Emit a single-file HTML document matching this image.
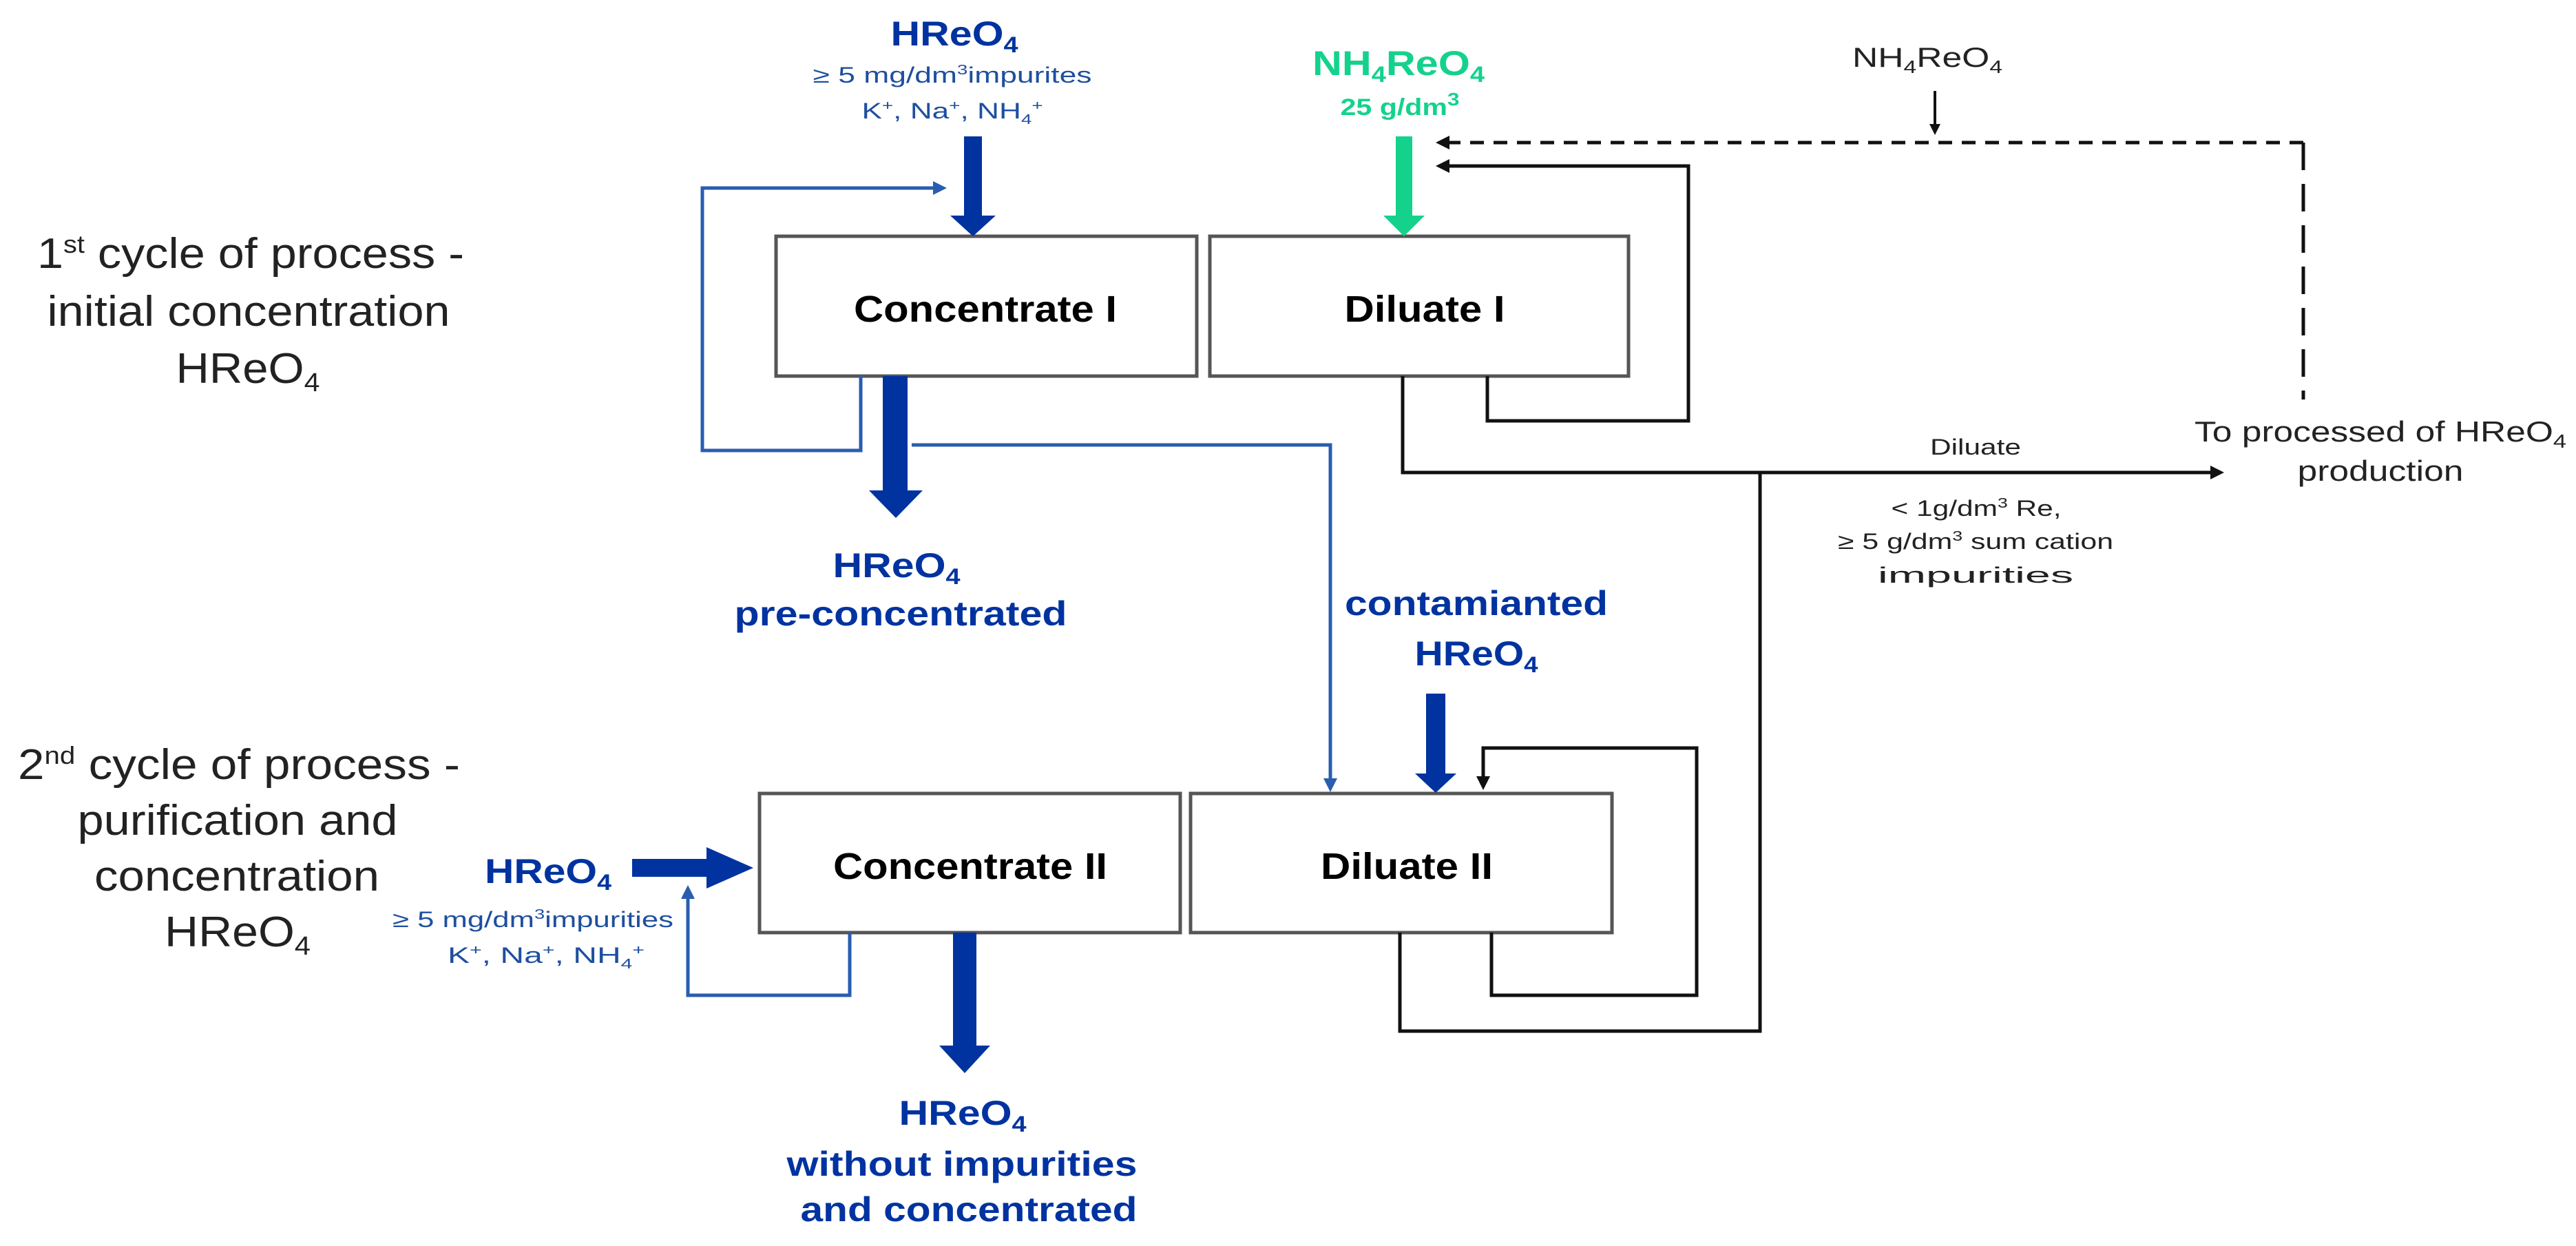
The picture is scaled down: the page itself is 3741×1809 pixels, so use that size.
<!DOCTYPE html>
<html><head><meta charset="utf-8"><style>html,body{margin:0;padding:0;background:#fff}svg{display:block}</style></head>
<body>
<svg width="3741" height="1809" viewBox="0 0 3741 1809" xmlns="http://www.w3.org/2000/svg" font-family="Liberation Sans, Arial, sans-serif">
<defs>
<marker id="ab" markerWidth="4" markerHeight="4" refX="3" refY="2" orient="auto" markerUnits="strokeWidth"><path d="M0,0 L4,2 L0,4 z" fill="#2a5db0"/></marker>
<marker id="ak" markerWidth="4" markerHeight="4" refX="3" refY="2" orient="auto" markerUnits="strokeWidth"><path d="M0,0 L4,2 L0,4 z" fill="#111"/></marker>
</defs>
<g fill="#fff" stroke="#555" stroke-width="5">
<rect x="1127" y="343" width="611" height="203"/>
<rect x="1757" y="343" width="608" height="203"/>
<rect x="1103" y="1152" width="611" height="202"/>
<rect x="1729" y="1152" width="612" height="202"/>
</g>
<g font-weight="bold" font-size="54" fill="#000" text-anchor="middle">
<text x="1431" y="467" textLength="382" lengthAdjust="spacingAndGlyphs">Concentrate I</text>
<text x="2069" y="467" textLength="233" lengthAdjust="spacingAndGlyphs">Diluate I</text>
<text x="1409" y="1276" textLength="398" lengthAdjust="spacingAndGlyphs">Concentrate II</text>
<text x="2043" y="1276" textLength="250" lengthAdjust="spacingAndGlyphs">Diluate II</text>
</g>
<g fill="none" stroke="#2a5db0" stroke-width="5">
<polyline points="1250,546 1250,654 1020,654 1020,273 1370,273" marker-end="url(#ab)"/>
<polyline points="1324,646 1932,646 1932,1145" marker-end="url(#ab)"/>
<polyline points="1234,1354 1234,1445 999,1445 999,1290" marker-end="url(#ab)"/>
</g>
<g fill="#0033a0">
<rect x="1400" y="198" width="26" height="115"/><polygon points="1380,313 1446,313 1413,343"/>
<rect x="1282" y="546" width="36" height="166"/><polygon points="1262,712 1340,712 1301,752"/>
<rect x="2071" y="1007" width="28" height="116"/><polygon points="2055,1123 2115,1123 2085,1151"/>
<rect x="1384" y="1354" width="34" height="164"/><polygon points="1364,1518 1438,1518 1401,1558"/>
<rect x="918" y="1247" width="108" height="26"/><polygon points="1026,1230 1026,1290 1094,1260"/>
</g>
<g fill="#14d28c">
<rect x="2027" y="198" width="24" height="115"/><polygon points="2009,313 2069,313 2039,343"/>
</g>
<g fill="none" stroke="#111" stroke-width="5">
<polyline points="2160,546 2160,611 2452,611 2452,241 2090,241" marker-end="url(#ak)"/>
<polyline points="2037,546 2037,686 3225,686" marker-end="url(#ak)"/>
<polyline points="2556,686 2556,1497 2033,1497 2033,1354"/>
<polyline points="2166,1354 2166,1445 2464,1445 2464,1086 2154,1086 2154,1142" marker-end="url(#ak)"/>
<line x1="2810" y1="132" x2="2810" y2="192" stroke-width="4" marker-end="url(#ak)"/>
<line x1="3345" y1="207" x2="2090" y2="207" stroke-dasharray="20,14" marker-end="url(#ak)"/>
<line x1="3345" y1="207" x2="3345" y2="580" stroke-dasharray="40,20"/>
</g>
<g font-size="62" fill="#222" text-anchor="middle">
<text x="364" y="389" textLength="620" lengthAdjust="spacingAndGlyphs">1<tspan font-size="36" dy="-22">st</tspan><tspan dy="22"> cycle of process -</tspan></text>
<text x="361" y="473" textLength="585" lengthAdjust="spacingAndGlyphs">initial concentration</text>
<text x="360" y="556" textLength="209" lengthAdjust="spacingAndGlyphs">HReO<tspan font-size="38" dy="12">4</tspan></text>
<text x="347" y="1131" textLength="642" lengthAdjust="spacingAndGlyphs">2<tspan font-size="36" dy="-22">nd</tspan><tspan dy="22"> cycle of process -</tspan></text>
<text x="345" y="1212" textLength="465" lengthAdjust="spacingAndGlyphs">purification and</text>
<text x="344" y="1293" textLength="414" lengthAdjust="spacingAndGlyphs">concentration</text>
<text x="345" y="1374" textLength="212" lengthAdjust="spacingAndGlyphs">HReO<tspan font-size="38" dy="12">4</tspan></text>
</g>
<g fill="#0033a0" text-anchor="middle" font-weight="bold" font-size="50">
<text x="1386" y="66" textLength="185" lengthAdjust="spacingAndGlyphs">HReO<tspan font-size="32" dy="10">4</tspan></text>
<text x="1302" y="838" textLength="185" lengthAdjust="spacingAndGlyphs">HReO<tspan font-size="32" dy="10">4</tspan></text>
<text x="1308" y="908" textLength="483" lengthAdjust="spacingAndGlyphs">pre-concentrated</text>
<text x="2144" y="893" textLength="382" lengthAdjust="spacingAndGlyphs">contamianted</text>
<text x="2144" y="966" textLength="179" lengthAdjust="spacingAndGlyphs">HReO<tspan font-size="32" dy="10">4</tspan></text>
<text x="796" y="1282" textLength="184" lengthAdjust="spacingAndGlyphs">HReO<tspan font-size="32" dy="10">4</tspan></text>
<text x="1398" y="1633" textLength="185" lengthAdjust="spacingAndGlyphs">HReO<tspan font-size="32" dy="10">4</tspan></text>
<text x="1397" y="1707" textLength="509" lengthAdjust="spacingAndGlyphs">without impurities</text>
<text x="1407" y="1773" textLength="489" lengthAdjust="spacingAndGlyphs">and concentrated</text>
</g>
<g fill="#1f4fa0" text-anchor="middle" font-size="32">
<text x="1383" y="120" textLength="405" lengthAdjust="spacingAndGlyphs">≥ 5 mg/dm<tspan font-size="20" dy="-12">3</tspan><tspan dy="12">impurites</tspan></text>
<text x="1383" y="172" textLength="263" lengthAdjust="spacingAndGlyphs">K<tspan font-size="20" dy="-12">+</tspan><tspan dy="12">, Na</tspan><tspan font-size="20" dy="-12">+</tspan><tspan dy="12">, NH</tspan><tspan font-size="20" dy="8">4</tspan><tspan font-size="20" dy="-20">+</tspan></text>
<text x="774" y="1346" textLength="408" lengthAdjust="spacingAndGlyphs">≥ 5 mg/dm<tspan font-size="20" dy="-12">3</tspan><tspan dy="12">impurities</tspan></text>
<text x="793" y="1398" textLength="286" lengthAdjust="spacingAndGlyphs">K<tspan font-size="20" dy="-12">+</tspan><tspan dy="12">, Na</tspan><tspan font-size="20" dy="-12">+</tspan><tspan dy="12">, NH</tspan><tspan font-size="20" dy="8">4</tspan><tspan font-size="20" dy="-20">+</tspan></text>
</g>
<g fill="#14d28c" text-anchor="middle" font-weight="bold">
<text x="2031" y="109" font-size="50" textLength="250" lengthAdjust="spacingAndGlyphs">NH<tspan font-size="32" dy="10">4</tspan><tspan dy="-10">ReO</tspan><tspan font-size="32" dy="10">4</tspan></text>
<text x="2033" y="167" font-size="34" textLength="173" lengthAdjust="spacingAndGlyphs">25 g/dm<tspan font-size="26" dy="-14">3</tspan></text>
</g>
<g fill="#222" text-anchor="middle">
<text x="2799" y="97" font-size="40" textLength="218" lengthAdjust="spacingAndGlyphs">NH<tspan font-size="26" dy="9">4</tspan><tspan dy="-9">ReO</tspan><tspan font-size="26" dy="9">4</tspan></text>
<text x="2869" y="660" font-size="32" textLength="132" lengthAdjust="spacingAndGlyphs">Diluate</text>
<text x="2870" y="749" font-size="32" textLength="247" lengthAdjust="spacingAndGlyphs">&lt; 1g/dm<tspan font-size="20" dy="-12">3</tspan><tspan dy="12"> Re,</tspan></text>
<text x="2869" y="797" font-size="32" textLength="400" lengthAdjust="spacingAndGlyphs">≥ 5 g/dm<tspan font-size="20" dy="-12">3</tspan><tspan dy="12"> sum cation</tspan></text>
<text x="2869" y="846" font-size="32" textLength="284" lengthAdjust="spacingAndGlyphs">impurities</text>
<text x="3457" y="641" font-size="42" textLength="540" lengthAdjust="spacingAndGlyphs">To processed of HReO<tspan font-size="28" dy="9">4</tspan></text>
<text x="3457" y="698" font-size="42" textLength="241" lengthAdjust="spacingAndGlyphs">production</text>
</g>
</svg>
</body></html>
